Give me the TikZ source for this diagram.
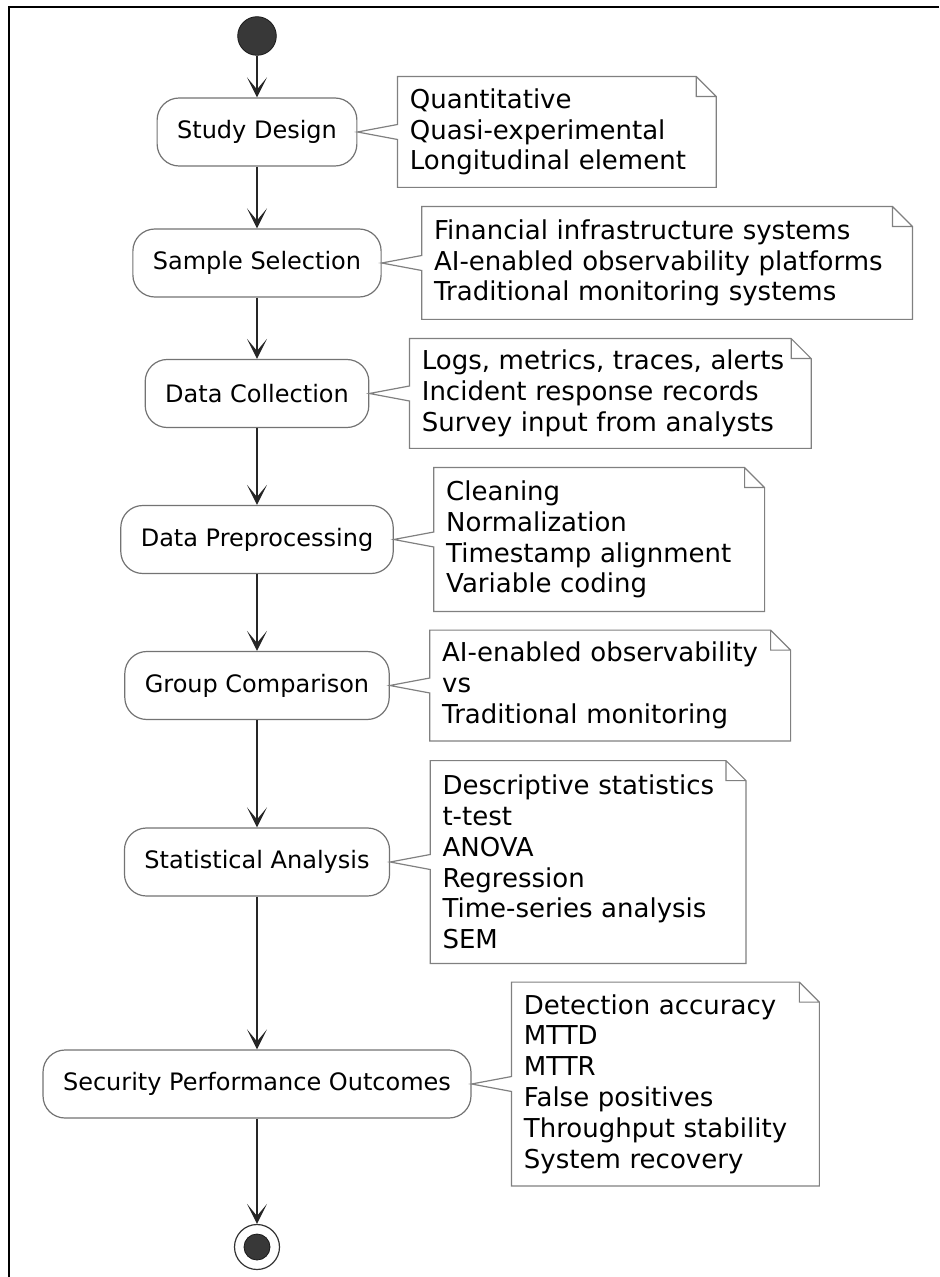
\documentclass[tikz,border=0pt]{standalone}
\usepackage{fontspec}
\setmainfont{DejaVu Sans}
\usepackage{tikz}
\usetikzlibrary{arrows.meta,positioning}
\tikzset{act/.style={rectangle,rounded corners=11pt,draw=black!55,fill=white,line width=0.6pt,minimum height=34pt,inner xsep=10pt,font=\fontsize{12}{14}\selectfont}}
\tikzset{memo/.style={rectangle,inner xsep=6pt,inner ysep=3pt,align=left,font=\fontsize{13}{15.4}\selectfont}}
\tikzset{memoline/.style={draw=black!50,line width=0.6pt}}
\tikzset{flow/.style={->,line width=0.8pt,draw=black!85}}
\tikzset{startdot/.style={circle,fill=black!78,draw=black!90,minimum size=19.3pt,inner sep=0pt}}
\tikzset{stopring/.style={circle,draw=black!80,fill=white,line width=0.6pt,minimum size=22.5pt,inner sep=0pt}}

\begin{document}
\begin{tikzpicture}[x=0.5pt,y=-0.5pt,>={Stealth[length=10pt,width=10pt,inset=6pt]}]
    \useasboundingbox (0,0) rectangle (939,1277);
    \draw [line width=1.2pt] (939,7) -- (9,7) -- (9,1277);

    \node[startdot] (start) at (257,36) {};
    \node[act] (sd) at (257,132) {Study Design};
    \node[act] (ss) at (257,263) {Sample Selection};
    \node[act] (dc) at (257,393.5) {Data Collection};
    \node[act] (dp) at (257,539.5) {Data Preprocessing};
    \node[act] (gc) at (257,685.5) {Group Comparison};
    \node[act] (sa) at (257,862) {Statistical Analysis};
    \node[act] (spo) at (257,1084) {Security Performance Outcomes};
    \node[stopring] (stop) at (257,1247) {};
    \node[startdot,minimum size=13pt] (stopdot) at (stop) {};

    \node[memo,text width=147pt,minimum height=55pt,right=20pt of sd] (sdnote) {Quantitative\\Quasi-experimental\\Longitudinal element};
    \node[memo,text width=233pt,minimum height=56pt,right=20pt of ss] (ssnote) {Financial infrastructure systems\\AI-enabled observability platforms\\Traditional monitoring systems};
    \node[memo,text width=188.5pt,minimum height=54.5pt,right=20pt of dc] (dcnote) {Logs, metrics, traces, alerts\\Incident response records\\Survey input from analysts};
    \node[memo,text width=153pt,minimum height=71.5pt,right=20pt of dp] (dpnote) {Cleaning\\Normalization\\Timestamp alignment\\Variable coding};
    \node[memo,text width=168pt,minimum height=55pt,right=20pt of gc] (gcnote) {AI-enabled observability\\vs\\Traditional monitoring};
    \node[memo,text width=145.5pt,minimum height=101pt,right=20pt of sa] (sanote) {Descriptive statistics\\t-test\\ANOVA\\Regression\\Time-series analysis\\SEM};
    \node[memo,text width=141.5pt,minimum height=101.5pt,right=20pt of spo] (sponote) {Detection accuracy\\MTTD\\MTTR\\False positives\\Throughput stability\\System recovery};

    \draw [flow] (start) -- (sd);
    \draw [flow] (sd) -- (ss);
    \draw [flow] (ss) -- (dc);
    \draw [flow] (dc) -- (dp);
    \draw [flow] (dp) -- (gc);
    \draw [flow] (gc) -- (sa);
    \draw [flow] (sa) -- (spo);
    \draw [flow] (spo) -- (stop);

    % note outlines, with the wedge back to the activity
    \draw [memoline] ([yshift=3.75pt]sdnote.west) -- (sdnote.north west) -- ([xshift=-10pt]sdnote.north east) -- ([yshift=-10pt]sdnote.north east) -- (sdnote.south east) -- (sdnote.south west) -- ([yshift=-3.75pt]sdnote.west) -- (sd.east) -- cycle ([xshift=-10pt]sdnote.north east) |- ([yshift=-10pt]sdnote.north east);
    \draw [memoline] ([yshift=3.75pt]ssnote.west) -- (ssnote.north west) -- ([xshift=-10pt]ssnote.north east) -- ([yshift=-10pt]ssnote.north east) -- (ssnote.south east) -- (ssnote.south west) -- ([yshift=-3.75pt]ssnote.west) -- (ss.east) -- cycle ([xshift=-10pt]ssnote.north east) |- ([yshift=-10pt]ssnote.north east);
    \draw [memoline] ([yshift=3.75pt]dcnote.west) -- (dcnote.north west) -- ([xshift=-10pt]dcnote.north east) -- ([yshift=-10pt]dcnote.north east) -- (dcnote.south east) -- (dcnote.south west) -- ([yshift=-3.75pt]dcnote.west) -- (dc.east) -- cycle ([xshift=-10pt]dcnote.north east) |- ([yshift=-10pt]dcnote.north east);
    \draw [memoline] ([yshift=3.75pt]dpnote.west) -- (dpnote.north west) -- ([xshift=-10pt]dpnote.north east) -- ([yshift=-10pt]dpnote.north east) -- (dpnote.south east) -- (dpnote.south west) -- ([yshift=-3.75pt]dpnote.west) -- (dp.east) -- cycle ([xshift=-10pt]dpnote.north east) |- ([yshift=-10pt]dpnote.north east);
    \draw [memoline] ([yshift=3.75pt]gcnote.west) -- (gcnote.north west) -- ([xshift=-10pt]gcnote.north east) -- ([yshift=-10pt]gcnote.north east) -- (gcnote.south east) -- (gcnote.south west) -- ([yshift=-3.75pt]gcnote.west) -- (gc.east) -- cycle ([xshift=-10pt]gcnote.north east) |- ([yshift=-10pt]gcnote.north east);
    \draw [memoline] ([yshift=3.75pt]sanote.west) -- (sanote.north west) -- ([xshift=-10pt]sanote.north east) -- ([yshift=-10pt]sanote.north east) -- (sanote.south east) -- (sanote.south west) -- ([yshift=-3.75pt]sanote.west) -- (sa.east) -- cycle ([xshift=-10pt]sanote.north east) |- ([yshift=-10pt]sanote.north east);
    \draw [memoline] ([yshift=3.75pt]sponote.west) -- (sponote.north west) -- ([xshift=-10pt]sponote.north east) -- ([yshift=-10pt]sponote.north east) -- (sponote.south east) -- (sponote.south west) -- ([yshift=-3.75pt]sponote.west) -- (spo.east) -- cycle ([xshift=-10pt]sponote.north east) |- ([yshift=-10pt]sponote.north east);
\end{tikzpicture}
\end{document}
